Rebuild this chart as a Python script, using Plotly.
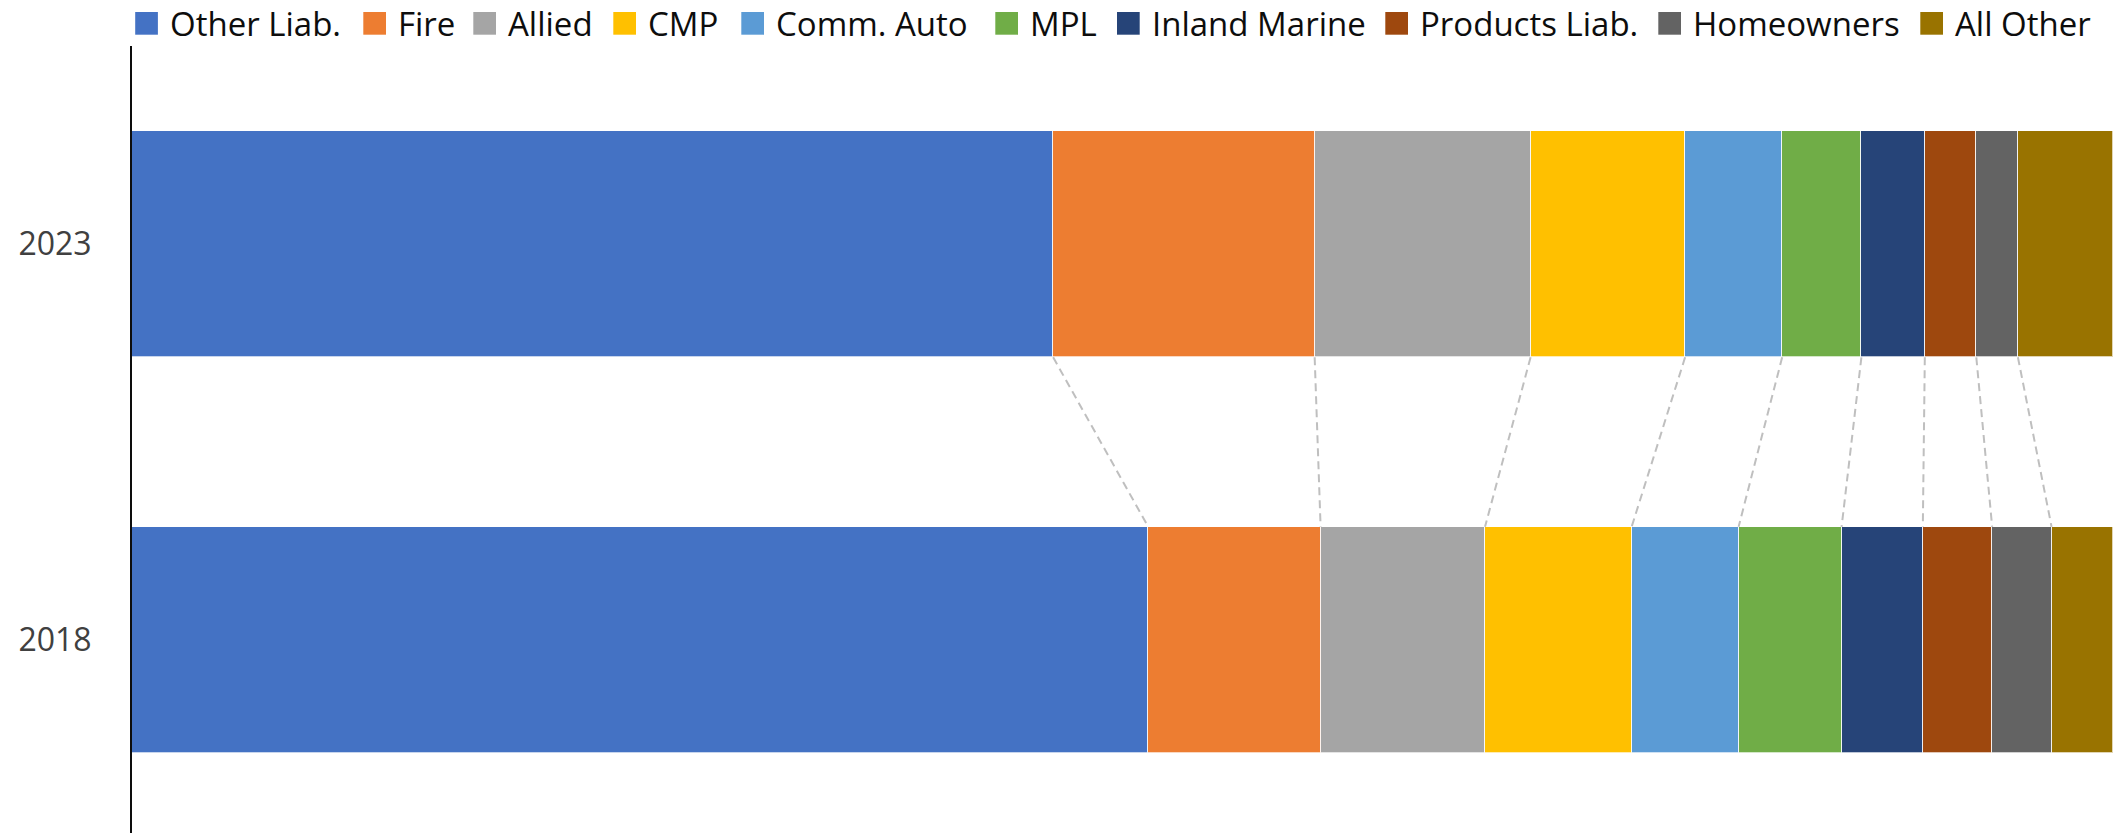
import plotly.graph_objects as go

# ---- data ----
years = ["2018", "2023"]
series = ["Other Liab.", "Fire", "Allied", "CMP", "Comm. Auto", "MPL",
          "Inland Marine", "Products Liab.", "Homeowners", "All Other"]
share_2018 = [51.3, 8.7, 8.3, 7.4, 5.4, 5.2, 4.1, 3.5, 3.0, 3.1]
share_2023 = [46.5, 13.2, 10.9, 7.8, 4.9, 4.0, 3.2, 2.6, 2.1, 4.8]

# ---- style ----
colors = ["#4472C4", "#ED7D31", "#A5A5A5", "#FFC000", "#5B9BD5", "#70AD47",
          "#264478", "#9E480E", "#636363", "#997300"]
FONT = "Open Sans"
BAR_W = 0.572
W_PX, H_PX = 2113, 833
ML, MR, MT, MB = 132, 0, 46, 0
PLOT_W = W_PX - ML - MR
PLOT_H = H_PX - MT - MB
legend_square_x = [135.2, 363.3, 473.3, 613.3, 741.3, 995.3, 1117.0, 1385.3, 1658.3, 1920.3]
SQ = 22.7


def px_x(px):
    return (px - ML) / PLOT_W


def px_y(py):
    return (H_PX - MB - py) / PLOT_H


by_year = {"2018": share_2018, "2023": share_2023}
ypos = {y: i for i, y in enumerate(years)}

fig = go.Figure()
for k, name in enumerate(series):
    fig.add_trace(go.Bar(
        orientation="h",
        y=[ypos[y] for y in years],
        x=[by_year[y][k] for y in years],
        name=name,
        width=BAR_W,
        marker=dict(color=colors[k], line=dict(color="rgba(255,255,255,0.7)", width=1)),
        showlegend=False,
    ))

# series connector lines
cum18, cum23 = 0.0, 0.0
for k in range(len(series) - 1):
    cum18 += share_2018[k]
    cum23 += share_2023[k]
    fig.add_trace(go.Scatter(
        x=[cum23, cum18],
        y=[ypos["2023"] - BAR_W / 2, ypos["2018"] + BAR_W / 2],
        mode="lines",
        line=dict(color="#BFBFBF", width=2, dash="8px,5px"),
        hoverinfo="skip",
        showlegend=False,
    ))

# custom legend (large squares)
shapes = []
annotations = []
for k, name in enumerate(series):
    sx = legend_square_x[k]
    shapes.append(dict(type="rect", xref="paper", yref="paper",
                       x0=px_x(sx), x1=px_x(sx + SQ), y0=px_y(12 + SQ), y1=px_y(12),
                       fillcolor=colors[k], line=dict(width=0), layer="above"))
    annotations.append(dict(xref="paper", yref="paper", x=px_x(sx + 33), y=px_y(23.5),
                            xanchor="left", yanchor="middle", showarrow=False,
                            text=name, font=dict(family=FONT, size=33, color="#0D0D0D")))

fig.update_layout(
    width=W_PX, height=H_PX,
    margin=dict(l=ML, r=MR, t=MT, b=MB),
    barmode="stack",
    bargap=0,
    plot_bgcolor="white", paper_bgcolor="white",
    shapes=shapes, annotations=annotations,
    showlegend=False,
    xaxis=dict(range=[0, 100], visible=False),
    yaxis=dict(range=[-0.487, 1.5], tickvals=[ypos[y] for y in years], ticktext=years,
               showgrid=False, zeroline=False, showline=True, linecolor="#0D0D0D",
               linewidth=2, ticks="", ticklabelstandoff=32,
               tickfont=dict(family=FONT, size=32, color="#404040")),
)

fig.write_html("out.html")
